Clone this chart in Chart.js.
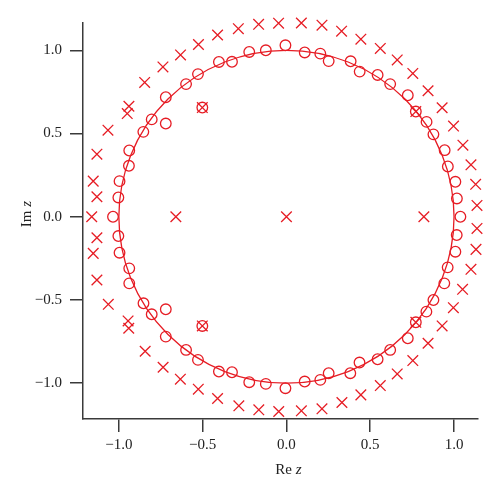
<!DOCTYPE html>
<html>
<head>
<meta charset="utf-8">
<script src="https://cdn.jsdelivr.net/npm/chart.js@4/dist/chart.umd.min.js"></script>
<style>
  html, body { margin: 0; padding: 0; background: #fff; }
  #wrap { width: 500px; height: 497px; position: relative; }
</style>
</head>
<body>
<div id="wrap"><canvas id="plot"></canvas></div>
<script>
// zeros (circles)
const zerosX = [
  -1.035, -1.003, -0.996, -0.940, -0.938, -0.854, -0.804, -0.720, -0.720, -0.599, -0.528, -0.403, -0.325, -0.222, -0.123,
  -0.006, 0.109, 0.202, 0.252, 0.383, 0.437, 0.544, 0.619, 0.724, 0.772, 0.836, 0.877, 0.944, 0.963, 1.008, 1.017, 1.038,
  -1.003, -0.996, -0.938, -0.938, -0.853, -0.804, -0.720, -0.720, -0.599, -0.528, -0.403, -0.325, -0.222, -0.123,
  -0.006, 0.109, 0.202, 0.252, 0.381, 0.436, 0.544, 0.619, 0.724, 0.772, 0.835, 0.877, 0.942, 0.962, 1.008, 1.016,
  -0.502, -0.502
];
const zerosY = [
  0, 0.116, 0.214, 0.306, 0.398, 0.510, 0.585, 0.560, 0.718, 0.797, 0.857, 0.930, 0.931, 0.990, 1.000,
  1.030, 0.987, 0.980, 0.935, 0.934, 0.872, 0.852, 0.797, 0.730, 0.632, 0.570, 0.495, 0.400, 0.302, 0.210, 0.110, 0,
  -0.116, -0.216, -0.310, -0.400, -0.520, -0.586, -0.556, -0.720, -0.800, -0.860, -0.930, -0.934, -0.994, -1.004,
  -1.030, -0.990, -0.980, -0.940, -0.940, -0.876, -0.856, -0.800, -0.730, -0.634, -0.570, -0.500, -0.400, -0.304, -0.210, -0.110,
  0.656, -0.656
];

// poles (crosses)
const polesX = [
  -1.162, -1.131, -1.153, -1.131, -1.065, -0.950, -0.940, -0.846, -0.737, -0.632, -0.525, -0.411, -0.287, -0.166, -0.047,
  0.089, 0.212, 0.329, 0.444, 0.560, 0.661, 0.754, 0.845, 0.929, 0.997, 1.053, 1.101, 1.129, 1.137,
  -1.131, -1.153, -1.131, -1.063, -0.945, -0.941, -0.843, -0.736, -0.633, -0.526, -0.411, -0.284, -0.165, -0.046,
  0.089, 0.212, 0.331, 0.444, 0.560, 0.661, 0.754, 0.845, 0.929, 0.996, 1.051, 1.101, 1.131, 1.137,
  -0.660, 0, 0.820, -0.502, -0.502, 0.772, 0.772
];
const polesY = [
  0, 0.120, 0.214, 0.376, 0.520, 0.620, 0.664, 0.807, 0.900, 0.972, 1.035, 1.092, 1.130, 1.156, 1.163,
  1.164, 1.151, 1.115, 1.067, 1.011, 0.942, 0.861, 0.757, 0.655, 0.545, 0.430, 0.312, 0.195, 0.068,
  -0.126, -0.220, -0.380, -0.526, -0.626, -0.670, -0.808, -0.904, -0.976, -1.036, -1.092, -1.136, -1.160, -1.170,
  -1.166, -1.154, -1.116, -1.070, -1.014, -0.944, -0.864, -0.760, -0.656, -0.546, -0.436, -0.316, -0.196, -0.070,
  0, 0, 0, 0.656, -0.656, 0.632, -0.634
];

const xTicks = [-1.0, -0.5, 0.0, 0.5, 1.0];
const yTicks = [-1.0, -0.5, 0.0, 0.5, 1.0];
const unitRadius = 1;

const red = 'rgb(230, 28, 36)';
const axisColor = '#3a3a3a';
const serif = '"Liberation Serif", "DejaVu Serif", serif';

function toPoints(xs, ys) {
  return xs.map((x, i) => ({ x: x, y: ys[i] }));
}

function fmt(v) {
  let s = Math.abs(v).toFixed(1);
  return v < 0 ? '\u2212' + s : s;
}

// unit circle, drawn through the scales
const unitCircle = {
  id: 'unitCircle',
  beforeDatasetsDraw(chart) {
    const { ctx, scales: { x, y } } = chart;
    const cx = x.getPixelForValue(0);
    const cy = y.getPixelForValue(0);
    const rx = x.getPixelForValue(unitRadius) - cx;
    const ry = cy - y.getPixelForValue(unitRadius);
    ctx.save();
    ctx.strokeStyle = red;
    ctx.lineWidth = 1.3;
    ctx.beginPath();
    ctx.ellipse(cx, cy, rx, ry, 0, 0, Math.PI * 2);
    ctx.stroke();
    ctx.restore();
  }
};

// axis titles with italic z
const axisTitles = {
  id: 'axisTitles',
  afterDraw(chart) {
    const ctx = chart.ctx;
    ctx.save();
    ctx.fillStyle = '#222';
    ctx.textBaseline = 'alphabetic';

    function label(a, b) {
      ctx.font = '15px ' + serif;
      const w1 = ctx.measureText(a).width;
      ctx.font = 'italic 15px ' + serif;
      const w2 = ctx.measureText(b).width;
      return { w1, w2, total: w1 + w2 };
    }

    // x title
    let m = label('Re ', 'z');
    let cx = chart.scales.x.getPixelForValue(0) + 2;
    let x0 = cx - m.total / 2;
    ctx.font = '15px ' + serif;
    ctx.textAlign = 'left';
    ctx.fillText('Re ', x0, 474);
    ctx.font = 'italic 15px ' + serif;
    ctx.fillText('z', x0 + m.w1, 474);

    // y title
    m = label('Im ', 'z');
    ctx.translate(31, 214);
    ctx.rotate(-Math.PI / 2);
    x0 = -m.total / 2;
    ctx.font = '15px ' + serif;
    ctx.fillText('Im ', x0, 0);
    ctx.font = 'italic 15px ' + serif;
    ctx.fillText('z', x0 + m.w1, 0);
    ctx.restore();
  }
};

new Chart(document.getElementById('plot'), {
  type: 'scatter',
  data: {
    datasets: [
      {
        label: 'zeros',
        data: toPoints(zerosX, zerosY),
        pointStyle: 'circle',
        pointRadius: 5.3,
        pointBorderWidth: 1.3,
        pointBorderColor: red,
        pointBackgroundColor: 'rgba(0,0,0,0)',
        clip: false
      },
      {
        label: 'poles',
        data: toPoints(polesX, polesY),
        pointStyle: 'crossRot',
        pointRadius: 7.5,
        pointBorderWidth: 1.3,
        pointBorderColor: red,
        clip: false
      }
    ]
  },
  options: {
    responsive: true,
    maintainAspectRatio: false,
    animation: false,
    events: [],
    layout: { padding: { left: 0, top: 23, right: 22, bottom: 0 } },
    plugins: {
      legend: { display: false },
      tooltip: { enabled: false }
    },
    scales: {
      x: {
        type: 'linear',
        min: -1.214,
        max: 1.143,
        afterFit: (s) => { s.height = 78; },
        afterBuildTicks: (s) => { s.ticks = xTicks.map(v => ({ value: v })); },
        grid: { drawOnChartArea: false, drawTicks: true, tickLength: 13, color: axisColor, lineWidth: 1.5 },
        border: { display: true, color: axisColor, width: 1.5 },
        ticks: {
          padding: 4,
          color: '#222',
          font: { family: serif, size: 15 },
          maxRotation: 0,
          callback: (v) => fmt(v)
        }
      },
      y: {
        type: 'linear',
        min: -1.215,
        max: 1.164,
        afterFit: (s) => { s.width = 83; },
        afterBuildTicks: (s) => { s.ticks = yTicks.map(v => ({ value: v })); },
        grid: { drawOnChartArea: false, drawTicks: true, tickLength: 13, color: axisColor, lineWidth: 1.5 },
        border: { display: true, color: axisColor, width: 1.5 },
        ticks: {
          padding: 8,
          color: '#222',
          font: { family: serif, size: 15 },
          callback: (v) => fmt(v)
        }
      }
    }
  },
  plugins: [unitCircle, axisTitles]
});
</script>
</body>
</html>
